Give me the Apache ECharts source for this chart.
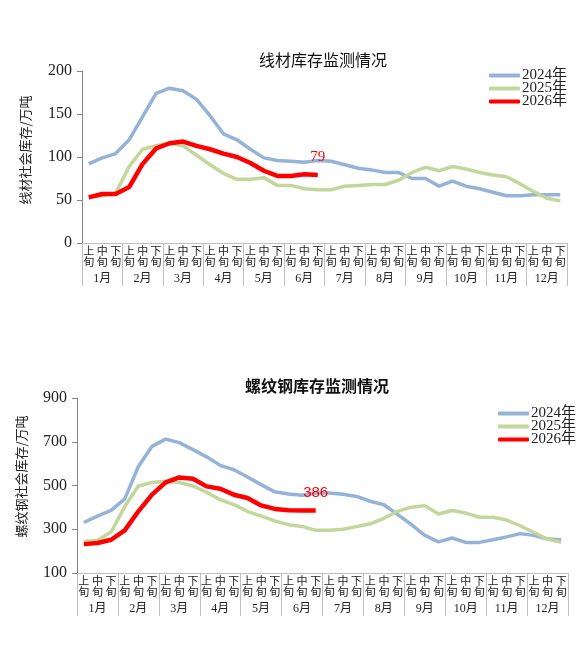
<!DOCTYPE html>
<html>
<head>
<meta charset="utf-8">
<script src="https://cdn.jsdelivr.net/npm/echarts@6/dist/echarts.min.js"></script>
<style>
  html, body { margin: 0; padding: 0; background: #fff; }
  #main { width: 588px; height: 653px; }
</style>
</head>
<body>
<div id="main"></div>
<script>
// 旬 / 月
const months = ['1月', '2月', '3月', '4月', '5月', '6月', '7月', '8月', '9月', '10月', '11月', '12月'];
const xun = ['上\n旬', '中\n旬', '下\n旬'];
const xunLabels = [];
months.forEach(() => xun.forEach(x => xunLabels.push(x)));

const years = ['2024年', '2025年', '2026年'];

// 线材社会库存（万吨）
const wire2024 = [92, 99, 104, 120, 147, 174, 180, 177, 167, 148, 127, 120, 109, 99, 96, 95, 94, 96, 95, 91, 87, 85, 82, 82, 75, 75, 66, 72, 66, 63, 59, 55, 55, 56, 56, 56];
const wire2025 = [54, 55, 58, 89, 109, 113, 116, 113, 102, 91, 81, 74, 74, 76, 67, 67, 63, 62, 62, 66, 67, 68, 68, 73, 82, 88, 84, 89, 86, 82, 79, 77, 69, 60, 52, 49];
const wire2026 = [53, 57, 57, 65, 92, 110, 116, 118, 113, 109, 104, 100, 93, 84, 78, 78, 80, 79];
const wireTicks = [0, 50, 100, 150, 200];

// 螺纹钢社会库存（万吨）
const rebar2024 = [331, 360, 386, 439, 587, 679, 712, 696, 664, 631, 592, 572, 539, 504, 471, 461, 455, 466, 466, 460, 450, 428, 412, 368, 322, 272, 242, 260, 240, 240, 252, 265, 280, 272, 255, 252];
const rebar2025 = [244, 250, 287, 404, 498, 514, 519, 514, 498, 469, 435, 413, 382, 360, 338, 321, 313, 295, 295, 300, 312, 325, 350, 382, 401, 408, 370, 386, 374, 355, 355, 342, 316, 285, 255, 240];
const rebar2026 = [232, 237, 252, 295, 382, 458, 514, 537, 531, 496, 485, 458, 443, 409, 393, 387, 386, 386];
const rebarTicks = [100, 300, 500, 700, 900];

const colors = ['#95B3D7', '#C3D69B', '#FF0000'];
const serif = '"Liberation Serif", "Noto Sans CJK SC", serif';
const cjk = '"Noto Sans CJK SC", sans-serif';
const gridLine = '#BFBFBF';

// 最后一个点显示数值
function withEndLabel(arr) {
  return arr.map((v, i) => i === arr.length - 1
    ? { value: v, symbol: 'circle', symbolSize: 1, label: { show: true } }
    : { value: v, symbol: 'none' });
}

function xAxes(gridIndex) {
  return [{
    type: 'category',
    gridIndex: gridIndex,
    data: xunLabels,
    boundaryGap: true,
    axisLine: { lineStyle: { color: gridLine } },
    axisTick: { length: 24, lineStyle: { color: gridLine } },
    axisLabel: { interval: 0, margin: 3, fontSize: 11, lineHeight: 10.5, color: '#222', fontFamily: cjk },
  }, {
    type: 'category',
    gridIndex: gridIndex,
    position: 'bottom',
    data: months,
    boundaryGap: true,
    axisLine: { show: true, lineStyle: { color: gridLine } },
    axisTick: { show: true, interval: 0, length: 43, lineStyle: { color: gridLine } },
    axisLabel: { interval: 0, margin: 30, fontSize: 12, color: '#222', fontFamily: serif },
  }];
}

function yAxis(gridIndex, name, min, max, ticks, gap, shift) {
  return {
    type: 'value',
    gridIndex: gridIndex,
    min: min,
    max: max,
    name: name,
    nameLocation: 'middle',
    nameRotate: 90,
    nameGap: gap,
    nameTextStyle: { fontSize: 13, color: '#222', fontFamily: cjk, padding: [0, 0, 0, shift] },
    splitLine: { show: false },
    axisLine: { show: true, lineStyle: { color: '#868686' } },
    axisTick: { show: true, length: 5, customValues: ticks, lineStyle: { color: '#868686' } },
    axisLabel: { customValues: ticks, fontSize: 16, margin: 10, color: '#222', fontFamily: serif },
  };
}

function lines(xi, yi, d2024, d2025, d2026, labelFont) {
  return [
    { name: years[0], type: 'line', xAxisIndex: xi, yAxisIndex: yi, data: d2024, showSymbol: false, symbol: 'none',
      lineStyle: { width: 3.5, color: colors[0] }, itemStyle: { color: colors[0] }, z: 2 },
    { name: years[1], type: 'line', xAxisIndex: xi, yAxisIndex: yi, data: d2025, showSymbol: false, symbol: 'none',
      lineStyle: { width: 3.5, color: colors[1] }, itemStyle: { color: colors[1] }, z: 3 },
    { name: years[2], type: 'line', xAxisIndex: xi, yAxisIndex: yi, data: withEndLabel(d2026), showSymbol: true,
      label: { show: false, position: 'top', distance: 10, color: '#FF0000', fontSize: 15, fontFamily: labelFont },
      lineStyle: { width: 4.5, color: colors[2] }, itemStyle: { color: colors[2] }, z: 4 },
  ];
}

function legend(left, top) {
  return {
    left: left, top: top, orient: 'vertical', itemGap: -2,
    itemWidth: 31, itemHeight: 4, icon: 'roundRect',
    textStyle: { fontSize: 15, lineHeight: 13.5, color: '#222', fontFamily: serif, padding: [0, 0, 0, -3] },
    data: years,
  };
}

const chart = echarts.init(document.getElementById('main'));
chart.setOption({
  animation: false,
  backgroundColor: '#fff',
  title: [
    { text: '线材库存监测情况', left: 318, top: 47, textAlign: 'center',
      textStyle: { fontSize: 16, fontWeight: 'normal', color: '#111', fontFamily: cjk } },
    { text: '螺纹钢库存监测情况', left: 312, top: 373, textAlign: 'center',
      textStyle: { fontSize: 16, fontWeight: 'bold', color: '#111', fontFamily: cjk } },
  ],
  legend: [legend(484, 63), legend(493, 401)],
  grid: [
    { left: 82, top: 71, width: 485, height: 172 },
    { left: 77, top: 398, width: 491, height: 175 },
  ],
  xAxis: [...xAxes(0), ...xAxes(1)],
  yAxis: [
    yAxis(0, '线材社会库存/万吨', 0, 200, wireTicks, 50, 14),
    yAxis(1, '螺纹钢社会库存/万吨', 100, 900, rebarTicks, 49, 18),
  ],
  series: [
    ...lines(0, 0, wire2024, wire2025, wire2026, 'Liberation Serif'),
    ...lines(2, 1, rebar2024, rebar2025, rebar2026, 'Liberation Sans'),
  ],
});
</script>
</body>
</html>
